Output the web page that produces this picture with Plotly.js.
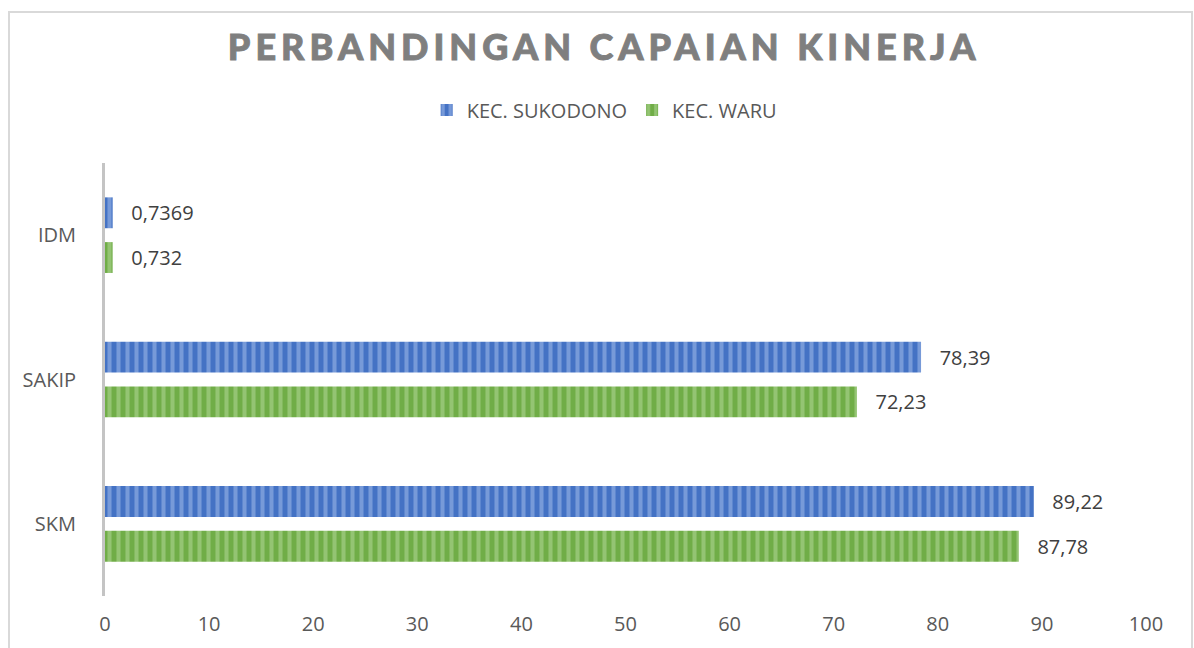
<!DOCTYPE html>
<html>
<head>
<meta charset="utf-8">
<script src="https://cdn.plot.ly/plotly-3.0.1.min.js"></script>
<style>
  html, body { margin: 0; padding: 0; background: #ffffff; }
  #chart { width: 1194px; height: 648px; }
  #chart .gtitle { letter-spacing: 5px; stroke: #7f7f7f; stroke-width: 0.9px; }
</style>
</head>
<body>
<div id="chart"></div>
<script>
const categories = ['IDM', 'SAKIP', 'SKM'];
const sukodonoValues = [0.7369, 78.39, 89.22];
const waruValues = [0.732, 72.23, 87.78];
const seriesNames = ['KEC. SUKODONO', 'KEC. WARU'];
const xTickValues = [0, 10, 20, 30, 40, 50, 60, 70, 80, 90, 100];
const chartTitle = 'PERBANDINGAN CAPAIAN KINERJA';

const fmt = v => '\u00a0\u00a0\u00a0' + String(v).replace('.', ',');

function barTrace(name, values, base, stripe) {
  return {
    type: 'bar',
    orientation: 'h',
    name: name,
    y: categories,
    x: values,
    text: values.map(fmt),
    textposition: 'outside',
    constraintext: 'none',
    cliponaxis: false,
    textfont: { family: 'Open Sans, sans-serif', size: 20, color: '#404040' },
    marker: {
      color: base,
      line: { width: 0 },
      pattern: { shape: '|', size: 9, solidity: 0.45, fgcolor: stripe, bgcolor: base, fillmode: 'overlay' }
    },
    hoverinfo: 'x+name'
  };
}

const data = [
  barTrace(seriesNames[0], sukodonoValues, '#4472c4', '#a9c1ec'),
  barTrace(seriesNames[1], waruValues, '#70ad47', '#b8dba0')
];

const layout = {
  width: 1194,
  height: 648,
  paper_bgcolor: '#ffffff',
  plot_bgcolor: '#ffffff',
  margin: { l: 105, r: 48, t: 163, b: 52, pad: 0 },
  barmode: 'group',
  bargap: 0.38,
  bargroupgap: 0.31,
  showlegend: true,
  title: {
    text: chartTitle,
    font: { family: 'Lato, sans-serif', size: 36, weight: 900, color: '#7f7f7f' },
    x: 0.506, xref: 'container', xanchor: 'center',
    y: 1 - 47 / 648, yref: 'container', yanchor: 'middle'
  },
  legend: {
    orientation: 'h',
    xref: 'container', x: 0.506, xanchor: 'center',
    yref: 'container', y: 1 - 110 / 648, yanchor: 'middle',
    font: { family: 'Open Sans, sans-serif', size: 20, color: '#595959' },
    itemwidth: 30,
    traceorder: 'normal',
    bgcolor: 'rgba(0,0,0,0)'
  },
  xaxis: {
    range: [0, 100],
    tickvals: xTickValues,
    ticktext: xTickValues.map(String),
    showgrid: false,
    zeroline: false,
    showline: false,
    ticks: '',
    ticklabelstandoff: 14,
    tickfont: { family: 'Open Sans, sans-serif', size: 20, color: '#595959' },
    fixedrange: true
  },
  yaxis: {
    type: 'category',
    categoryorder: 'array',
    categoryarray: categories,
    autorange: 'reversed',
    showgrid: false,
    zeroline: false,
    showline: true,
    linecolor: '#c4c4c4',
    linewidth: 3,
    ticks: '',
    ticklabelstandoff: 22,
    tickfont: { family: 'Open Sans, sans-serif', size: 20, color: '#595959' },
    fixedrange: true
  },
  shapes: [{
    type: 'rect', xref: 'paper', yref: 'paper',
    x0: (9 - 105) / 1041, x1: (1192 - 105) / 1041,
    y0: -0.3, y1: (596 - 12) / 433,
    line: { color: '#d9d9d9', width: 2 },
    fillcolor: 'rgba(0,0,0,0)',
    layer: 'below'
  }]
};

Plotly.newPlot('chart', data, layout, { displayModeBar: false, staticPlot: true });
</script>
</body>
</html>
